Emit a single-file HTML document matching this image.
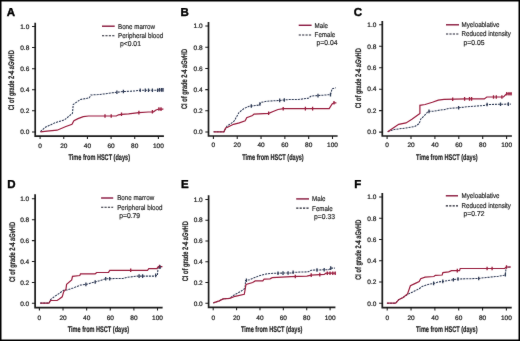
<!DOCTYPE html>
<html><head><meta charset="utf-8"><style>html,body{margin:0;padding:0;background:#fff;width:520px;height:341px;overflow:hidden}</style></head>
<body><svg width="520" height="341" viewBox="0 0 520 341" style="display:block;text-rendering:geometricPrecision"><defs><filter id="bl" x="-5%" y="-5%" width="110%" height="110%"><feConvolveMatrix order="3" kernelMatrix="0.01 0.04 0.01 0.04 0.8 0.04 0.01 0.04 0.01" preserveAlpha="false"/></filter></defs><rect x="0" y="0" width="520" height="341" fill="#fff"/><g filter="url(#bl)"><g><text x="6.8" y="15.8" font-family='"Liberation Sans", sans-serif' font-weight="bold" font-size="11.5" fill="#000" stroke="#000" stroke-width="0.4">A</text><path d="M35.2 22.8V136.2H163.9" fill="none" stroke="#1a1a1a" stroke-width="1.7" stroke-linejoin="miter" stroke-linecap="butt"/><path d="M32.00 131.90H35.2M32.00 110.82H35.2M32.00 89.74H35.2M32.00 68.66H35.2M32.00 47.58H35.2M32.00 26.50H35.2M40.10 136.2V139.10M63.76 136.2V139.10M87.42 136.2V139.10M111.08 136.2V139.10M134.74 136.2V139.10M158.40 136.2V139.10" stroke="#1a1a1a" stroke-width="1.05" fill="none"/><text transform="translate(29.30 134.20) scale(1.02 1)" text-anchor="end" font-family='"Liberation Sans", sans-serif' font-size="6.4" fill="#222222" stroke="#222222" stroke-width="0.22">0.0</text><text transform="translate(29.30 113.12) scale(1.02 1)" text-anchor="end" font-family='"Liberation Sans", sans-serif' font-size="6.4" fill="#222222" stroke="#222222" stroke-width="0.22">0.2</text><text transform="translate(29.30 92.04) scale(1.02 1)" text-anchor="end" font-family='"Liberation Sans", sans-serif' font-size="6.4" fill="#222222" stroke="#222222" stroke-width="0.22">0.4</text><text transform="translate(29.30 70.96) scale(1.02 1)" text-anchor="end" font-family='"Liberation Sans", sans-serif' font-size="6.4" fill="#222222" stroke="#222222" stroke-width="0.22">0.6</text><text transform="translate(29.30 49.88) scale(1.02 1)" text-anchor="end" font-family='"Liberation Sans", sans-serif' font-size="6.4" fill="#222222" stroke="#222222" stroke-width="0.22">0.8</text><text transform="translate(29.30 28.80) scale(1.02 1)" text-anchor="end" font-family='"Liberation Sans", sans-serif' font-size="6.4" fill="#222222" stroke="#222222" stroke-width="0.22">1.0</text><text transform="translate(40.10 147.60) scale(1.02 1)" text-anchor="middle" font-family='"Liberation Sans", sans-serif' font-size="6.4" fill="#222222" stroke="#222222" stroke-width="0.22">0</text><text transform="translate(63.76 147.60) scale(1.02 1)" text-anchor="middle" font-family='"Liberation Sans", sans-serif' font-size="6.4" fill="#222222" stroke="#222222" stroke-width="0.22">20</text><text transform="translate(87.42 147.60) scale(1.02 1)" text-anchor="middle" font-family='"Liberation Sans", sans-serif' font-size="6.4" fill="#222222" stroke="#222222" stroke-width="0.22">40</text><text transform="translate(111.08 147.60) scale(1.02 1)" text-anchor="middle" font-family='"Liberation Sans", sans-serif' font-size="6.4" fill="#222222" stroke="#222222" stroke-width="0.22">60</text><text transform="translate(134.74 147.60) scale(1.02 1)" text-anchor="middle" font-family='"Liberation Sans", sans-serif' font-size="6.4" fill="#222222" stroke="#222222" stroke-width="0.22">80</text><text transform="translate(158.40 147.60) scale(1.02 1)" text-anchor="middle" font-family='"Liberation Sans", sans-serif' font-size="6.4" fill="#222222" stroke="#222222" stroke-width="0.22">100</text><text transform="translate(99.25 160.00) scale(0.68 1)" text-anchor="middle" font-family='"Liberation Sans", sans-serif' font-weight="bold" font-size="8.2" fill="#222222" stroke="#222222" stroke-width="0.2">Time from HSCT (days)</text><text transform="translate(14.20 80.30) rotate(-90) scale(0.695 1)" text-anchor="middle" font-family='"Liberation Sans", sans-serif' font-weight="bold" font-size="8.2" fill="#222222" stroke="#222222" stroke-width="0.2">CI of grade 2-4 aGvHD</text><path d="M102.0 26.2H114.7" stroke="#8c1e44" stroke-width="1.45"/><path d="M102.0 35.8H114.7" stroke="#222533" stroke-width="1.1" stroke-dasharray="2.2 1.2"/><text transform="translate(118.00 28.70) scale(0.875 1)" font-family='"Liberation Sans", sans-serif' font-size="7.1" fill="#222222" stroke="#222222" stroke-width="0.18">Bone marrow</text><text transform="translate(118.00 38.00) scale(0.875 1)" font-family='"Liberation Sans", sans-serif' font-size="7.1" fill="#222222" stroke="#222222" stroke-width="0.18">Peripheral blood</text><text transform="translate(120.00 46.00) scale(0.955 1)" font-family='"Liberation Sans", sans-serif' font-size="7.1" fill="#222222" stroke="#222222" stroke-width="0.18">p&lt;0.01</text><path d="M40.4 131.6 L45.3 127.3 L55.0 122.8 L64.4 119.9 L72.5 113.3 L73.2 104.5 L80.5 99.4 L85.9 98.5 L89.3 97.9 L90.8 95.0 L98.1 94.6 L104.4 93.9 L112.3 92.8 L116.3 92.3 L123.4 91.5 L129.2 91.3 L135.6 90.9 L140.2 90.3 L157.6 90.3 L158.0 89.9 L163.4 89.9" fill="none" stroke="#2f3a55" stroke-width="1.05" stroke-dasharray="2.1 0.95" stroke-linejoin="miter"/><path d="M40.4 131.8 L47.0 131.1 L57.1 130.2 L65.9 126.5 L72.0 124.3 L73.9 120.7 L78.0 118.6 L83.3 116.6 L88.6 116.0 L116.3 116.0 L118.5 114.8 L121.5 114.3 L128.6 113.9 L138.9 112.6 L148.5 112.0 L153.5 111.8 L156.0 110.0 L158.9 109.0 L163.4 109.2" fill="none" stroke="#9a1b3d" stroke-width="1.2" stroke-linejoin="miter"/><path d="M105.0 114.2V117.8M111.2 114.2V117.8M121.5 112.5V116.1M138.9 110.8V114.4M152.4 110.0V113.6M158.9 107.2V110.8M161.0 107.3V110.9" stroke="#9a1b3d" stroke-width="1.3"/><path d="M116.9 90.4V94.0M123.4 89.7V93.3M140.2 88.5V92.1M145.3 88.5V92.1M148.5 88.5V92.1M152.4 88.5V92.1M157.6 88.5V92.1M159.5 88.1V91.7M161.5 88.1V91.7M163.0 88.1V91.7" stroke="#2f3a55" stroke-width="1.3"/></g><g><text x="180.6" y="15.8" font-family='"Liberation Sans", sans-serif' font-weight="bold" font-size="11.5" fill="#000" stroke="#000" stroke-width="0.4">B</text><path d="M208.5 22.0V136.0H337.6" fill="none" stroke="#1a1a1a" stroke-width="1.7" stroke-linejoin="miter" stroke-linecap="butt"/><path d="M205.30 132.00H208.5M205.30 110.80H208.5M205.30 89.60H208.5M205.30 68.40H208.5M205.30 47.20H208.5M205.30 26.00H208.5M213.40 136.0V138.90M237.22 136.0V138.90M261.04 136.0V138.90M284.86 136.0V138.90M308.68 136.0V138.90M332.50 136.0V138.90" stroke="#1a1a1a" stroke-width="1.05" fill="none"/><text transform="translate(202.60 134.30) scale(1.02 1)" text-anchor="end" font-family='"Liberation Sans", sans-serif' font-size="6.4" fill="#222222" stroke="#222222" stroke-width="0.22">0.0</text><text transform="translate(202.60 113.10) scale(1.02 1)" text-anchor="end" font-family='"Liberation Sans", sans-serif' font-size="6.4" fill="#222222" stroke="#222222" stroke-width="0.22">0.2</text><text transform="translate(202.60 91.90) scale(1.02 1)" text-anchor="end" font-family='"Liberation Sans", sans-serif' font-size="6.4" fill="#222222" stroke="#222222" stroke-width="0.22">0.4</text><text transform="translate(202.60 70.70) scale(1.02 1)" text-anchor="end" font-family='"Liberation Sans", sans-serif' font-size="6.4" fill="#222222" stroke="#222222" stroke-width="0.22">0.6</text><text transform="translate(202.60 49.50) scale(1.02 1)" text-anchor="end" font-family='"Liberation Sans", sans-serif' font-size="6.4" fill="#222222" stroke="#222222" stroke-width="0.22">0.8</text><text transform="translate(202.60 28.30) scale(1.02 1)" text-anchor="end" font-family='"Liberation Sans", sans-serif' font-size="6.4" fill="#222222" stroke="#222222" stroke-width="0.22">1.0</text><text transform="translate(213.40 147.40) scale(1.02 1)" text-anchor="middle" font-family='"Liberation Sans", sans-serif' font-size="6.4" fill="#222222" stroke="#222222" stroke-width="0.22">0</text><text transform="translate(237.22 147.40) scale(1.02 1)" text-anchor="middle" font-family='"Liberation Sans", sans-serif' font-size="6.4" fill="#222222" stroke="#222222" stroke-width="0.22">20</text><text transform="translate(261.04 147.40) scale(1.02 1)" text-anchor="middle" font-family='"Liberation Sans", sans-serif' font-size="6.4" fill="#222222" stroke="#222222" stroke-width="0.22">40</text><text transform="translate(284.86 147.40) scale(1.02 1)" text-anchor="middle" font-family='"Liberation Sans", sans-serif' font-size="6.4" fill="#222222" stroke="#222222" stroke-width="0.22">60</text><text transform="translate(308.68 147.40) scale(1.02 1)" text-anchor="middle" font-family='"Liberation Sans", sans-serif' font-size="6.4" fill="#222222" stroke="#222222" stroke-width="0.22">80</text><text transform="translate(332.50 147.40) scale(1.02 1)" text-anchor="middle" font-family='"Liberation Sans", sans-serif' font-size="6.4" fill="#222222" stroke="#222222" stroke-width="0.22">100</text><text transform="translate(272.95 159.80) scale(0.68 1)" text-anchor="middle" font-family='"Liberation Sans", sans-serif' font-weight="bold" font-size="8.2" fill="#222222" stroke="#222222" stroke-width="0.2">Time from HSCT (days)</text><text transform="translate(187.20 78.95) rotate(-90) scale(0.695 1)" text-anchor="middle" font-family='"Liberation Sans", sans-serif' font-weight="bold" font-size="8.2" fill="#222222" stroke="#222222" stroke-width="0.2">CI of grade 2-4 aGvHD</text><path d="M298.7 25.3H311.6" stroke="#8c1e44" stroke-width="1.45"/><path d="M298.7 35.0H311.6" stroke="#222533" stroke-width="1.1" stroke-dasharray="2.2 1.2"/><text transform="translate(314.60 27.80) scale(0.875 1)" font-family='"Liberation Sans", sans-serif' font-size="7.1" fill="#222222" stroke="#222222" stroke-width="0.18">Male</text><text transform="translate(314.60 37.00) scale(0.875 1)" font-family='"Liberation Sans", sans-serif' font-size="7.1" fill="#222222" stroke="#222222" stroke-width="0.18">Female</text><text transform="translate(316.60 45.30) scale(0.955 1)" font-family='"Liberation Sans", sans-serif' font-size="7.1" fill="#222222" stroke="#222222" stroke-width="0.18">p=0.04</text><path d="M213.6 131.8 L223.9 131.8 L226.9 126.2 L230.5 123.8 L234.2 121.0 L239.0 112.5 L244.0 108.5 L249.0 106.3 L259.0 105.1 L261.3 102.3 L266.5 101.3 L279.7 100.4 L288.3 99.6 L298.2 99.5 L308.3 98.2 L311.2 96.0 L317.7 95.6 L330.5 94.6 L332.1 88.8 L335.7 87.8" fill="none" stroke="#2f3a55" stroke-width="1.05" stroke-dasharray="2.1 0.95" stroke-linejoin="miter"/><path d="M213.6 131.8 L223.9 131.8 L225.6 128.0 L227.6 127.3 L230.5 125.8 L233.5 124.3 L239.3 122.9 L245.2 120.7 L246.7 117.7 L252.5 115.5 L254.0 114.1 L268.7 113.3 L273.7 111.2 L278.0 109.5 L283.6 108.6 L329.2 108.6 L332.1 104.0 L334.0 102.8 L336.4 102.8" fill="none" stroke="#9a1b3d" stroke-width="1.2" stroke-linejoin="miter"/><path d="M268.6 111.5V115.1M283.2 106.9V110.5M305.4 106.8V110.4M312.6 106.8V110.4M334.0 101.0V104.6" stroke="#9a1b3d" stroke-width="1.3"/><path d="M251.3 104.2V107.8M259.9 102.2V105.8M279.7 98.6V102.2M284.3 98.2V101.8M318.0 93.8V97.4M330.5 92.8V96.4" stroke="#2f3a55" stroke-width="1.3"/></g><g><text x="353.70000000000005" y="15.8" font-family='"Liberation Sans", sans-serif' font-weight="bold" font-size="11.5" fill="#000" stroke="#000" stroke-width="0.4">C</text><path d="M382.3 21.0V136.0H511.9" fill="none" stroke="#1a1a1a" stroke-width="1.7" stroke-linejoin="miter" stroke-linecap="butt"/><path d="M379.10 132.10H382.3M379.10 110.64H382.3M379.10 89.18H382.3M379.10 67.72H382.3M379.10 46.26H382.3M379.10 24.80H382.3M387.10 136.0V138.90M411.00 136.0V138.90M434.90 136.0V138.90M458.80 136.0V138.90M482.70 136.0V138.90M506.60 136.0V138.90" stroke="#1a1a1a" stroke-width="1.05" fill="none"/><text transform="translate(376.40 134.40) scale(1.02 1)" text-anchor="end" font-family='"Liberation Sans", sans-serif' font-size="6.4" fill="#222222" stroke="#222222" stroke-width="0.22">0.0</text><text transform="translate(376.40 112.94) scale(1.02 1)" text-anchor="end" font-family='"Liberation Sans", sans-serif' font-size="6.4" fill="#222222" stroke="#222222" stroke-width="0.22">0.2</text><text transform="translate(376.40 91.48) scale(1.02 1)" text-anchor="end" font-family='"Liberation Sans", sans-serif' font-size="6.4" fill="#222222" stroke="#222222" stroke-width="0.22">0.4</text><text transform="translate(376.40 70.02) scale(1.02 1)" text-anchor="end" font-family='"Liberation Sans", sans-serif' font-size="6.4" fill="#222222" stroke="#222222" stroke-width="0.22">0.6</text><text transform="translate(376.40 48.56) scale(1.02 1)" text-anchor="end" font-family='"Liberation Sans", sans-serif' font-size="6.4" fill="#222222" stroke="#222222" stroke-width="0.22">0.8</text><text transform="translate(376.40 27.10) scale(1.02 1)" text-anchor="end" font-family='"Liberation Sans", sans-serif' font-size="6.4" fill="#222222" stroke="#222222" stroke-width="0.22">1.0</text><text transform="translate(387.10 147.40) scale(1.02 1)" text-anchor="middle" font-family='"Liberation Sans", sans-serif' font-size="6.4" fill="#222222" stroke="#222222" stroke-width="0.22">0</text><text transform="translate(411.00 147.40) scale(1.02 1)" text-anchor="middle" font-family='"Liberation Sans", sans-serif' font-size="6.4" fill="#222222" stroke="#222222" stroke-width="0.22">20</text><text transform="translate(434.90 147.40) scale(1.02 1)" text-anchor="middle" font-family='"Liberation Sans", sans-serif' font-size="6.4" fill="#222222" stroke="#222222" stroke-width="0.22">40</text><text transform="translate(458.80 147.40) scale(1.02 1)" text-anchor="middle" font-family='"Liberation Sans", sans-serif' font-size="6.4" fill="#222222" stroke="#222222" stroke-width="0.22">60</text><text transform="translate(482.70 147.40) scale(1.02 1)" text-anchor="middle" font-family='"Liberation Sans", sans-serif' font-size="6.4" fill="#222222" stroke="#222222" stroke-width="0.22">80</text><text transform="translate(506.60 147.40) scale(1.02 1)" text-anchor="middle" font-family='"Liberation Sans", sans-serif' font-size="6.4" fill="#222222" stroke="#222222" stroke-width="0.22">100</text><text transform="translate(446.85 159.80) scale(0.68 1)" text-anchor="middle" font-family='"Liberation Sans", sans-serif' font-weight="bold" font-size="8.2" fill="#222222" stroke="#222222" stroke-width="0.2">Time from HSCT (days)</text><text transform="translate(360.60 78.30) rotate(-90) scale(0.695 1)" text-anchor="middle" font-family='"Liberation Sans", sans-serif' font-weight="bold" font-size="8.2" fill="#222222" stroke="#222222" stroke-width="0.2">CI of grade 2-4 aGvHD</text><path d="M446.0 24.8H459.0" stroke="#8c1e44" stroke-width="1.45"/><path d="M446.0 34.0H459.0" stroke="#222533" stroke-width="1.1" stroke-dasharray="2.2 1.2"/><text transform="translate(461.60 26.90) scale(0.875 1)" font-family='"Liberation Sans", sans-serif' font-size="7.1" fill="#222222" stroke="#222222" stroke-width="0.18">Myeloablative</text><text transform="translate(461.60 36.00) scale(0.875 1)" font-family='"Liberation Sans", sans-serif' font-size="7.1" fill="#222222" stroke="#222222" stroke-width="0.18">Reduced intensity</text><text transform="translate(463.60 44.80) scale(0.955 1)" font-family='"Liberation Sans", sans-serif' font-size="7.1" fill="#222222" stroke="#222222" stroke-width="0.18">p=0.05</text><path d="M387.7 131.8 L394.3 129.5 L406.0 128.0 L414.8 126.5 L419.2 123.6 L420.7 119.2 L426.5 113.3 L428.0 111.4 L433.9 111.2 L439.7 110.1 L444.0 109.7 L448.7 108.4 L458.6 107.7 L470.0 106.5 L474.5 106.2 L484.3 105.5 L487.1 104.5 L508.3 104.1 L511.0 104.1" fill="none" stroke="#2f3a55" stroke-width="1.05" stroke-dasharray="2.1 0.95" stroke-linejoin="miter"/><path d="M387.7 131.8 L394.3 127.3 L398.7 124.3 L406.0 122.9 L411.9 119.2 L419.2 114.1 L419.9 113.5 L419.9 105.3 L425.1 104.5 L432.4 102.3 L438.3 100.1 L444.0 99.4 L466.0 98.9 L484.3 98.9 L486.8 97.0 L503.5 97.0 L506.5 93.8 L511.8 93.8" fill="none" stroke="#9a1b3d" stroke-width="1.2" stroke-linejoin="miter"/><path d="M452.7 97.4V101.0M464.6 97.1V100.7M469.5 97.1V100.7M471.6 97.1V100.7M493.5 95.2V98.8M496.3 95.2V98.8M501.9 95.2V98.8M506.8 92.0V95.6M509.0 92.0V95.6M511.0 92.0V95.6" stroke="#9a1b3d" stroke-width="1.3"/><path d="M429.0 109.6V113.2M458.6 105.9V109.5M487.1 102.7V106.3M500.5 102.4V106.0M508.3 102.3V105.9" stroke="#2f3a55" stroke-width="1.3"/></g><g><text x="7.199999999999999" y="187.9" font-family='"Liberation Sans", sans-serif' font-weight="bold" font-size="11.5" fill="#000" stroke="#000" stroke-width="0.4">D</text><path d="M35.1 194.2V307.6H162.6" fill="none" stroke="#1a1a1a" stroke-width="1.7" stroke-linejoin="miter" stroke-linecap="butt"/><path d="M31.90 303.30H35.1M31.90 282.40H35.1M31.90 261.50H35.1M31.90 240.60H35.1M31.90 219.70H35.1M31.90 198.80H35.1M39.40 307.6V310.50M63.02 307.6V310.50M86.64 307.6V310.50M110.26 307.6V310.50M133.88 307.6V310.50M157.50 307.6V310.50" stroke="#1a1a1a" stroke-width="1.05" fill="none"/><text transform="translate(29.20 305.60) scale(1.02 1)" text-anchor="end" font-family='"Liberation Sans", sans-serif' font-size="6.4" fill="#222222" stroke="#222222" stroke-width="0.22">0.0</text><text transform="translate(29.20 284.70) scale(1.02 1)" text-anchor="end" font-family='"Liberation Sans", sans-serif' font-size="6.4" fill="#222222" stroke="#222222" stroke-width="0.22">0.2</text><text transform="translate(29.20 263.80) scale(1.02 1)" text-anchor="end" font-family='"Liberation Sans", sans-serif' font-size="6.4" fill="#222222" stroke="#222222" stroke-width="0.22">0.4</text><text transform="translate(29.20 242.90) scale(1.02 1)" text-anchor="end" font-family='"Liberation Sans", sans-serif' font-size="6.4" fill="#222222" stroke="#222222" stroke-width="0.22">0.6</text><text transform="translate(29.20 222.00) scale(1.02 1)" text-anchor="end" font-family='"Liberation Sans", sans-serif' font-size="6.4" fill="#222222" stroke="#222222" stroke-width="0.22">0.8</text><text transform="translate(29.20 201.10) scale(1.02 1)" text-anchor="end" font-family='"Liberation Sans", sans-serif' font-size="6.4" fill="#222222" stroke="#222222" stroke-width="0.22">1.0</text><text transform="translate(39.40 319.70) scale(1.02 1)" text-anchor="middle" font-family='"Liberation Sans", sans-serif' font-size="6.4" fill="#222222" stroke="#222222" stroke-width="0.22">0</text><text transform="translate(63.02 319.70) scale(1.02 1)" text-anchor="middle" font-family='"Liberation Sans", sans-serif' font-size="6.4" fill="#222222" stroke="#222222" stroke-width="0.22">20</text><text transform="translate(86.64 319.70) scale(1.02 1)" text-anchor="middle" font-family='"Liberation Sans", sans-serif' font-size="6.4" fill="#222222" stroke="#222222" stroke-width="0.22">40</text><text transform="translate(110.26 319.70) scale(1.02 1)" text-anchor="middle" font-family='"Liberation Sans", sans-serif' font-size="6.4" fill="#222222" stroke="#222222" stroke-width="0.22">60</text><text transform="translate(133.88 319.70) scale(1.02 1)" text-anchor="middle" font-family='"Liberation Sans", sans-serif' font-size="6.4" fill="#222222" stroke="#222222" stroke-width="0.22">80</text><text transform="translate(157.50 319.70) scale(1.02 1)" text-anchor="middle" font-family='"Liberation Sans", sans-serif' font-size="6.4" fill="#222222" stroke="#222222" stroke-width="0.22">100</text><text transform="translate(98.45 332.00) scale(0.68 1)" text-anchor="middle" font-family='"Liberation Sans", sans-serif' font-weight="bold" font-size="8.2" fill="#222222" stroke="#222222" stroke-width="0.2">Time from HSCT (days)</text><text transform="translate(14.80 252.00) rotate(-90) scale(0.695 1)" text-anchor="middle" font-family='"Liberation Sans", sans-serif' font-weight="bold" font-size="8.2" fill="#222222" stroke="#222222" stroke-width="0.2">CI of grade 2-4 aGvHD</text><path d="M101.1 198.0H113.2" stroke="#8c1e44" stroke-width="1.45"/><path d="M101.1 207.2H113.2" stroke="#222533" stroke-width="1.1" stroke-dasharray="2.2 1.2"/><text transform="translate(117.20 200.20) scale(0.875 1)" font-family='"Liberation Sans", sans-serif' font-size="7.1" fill="#222222" stroke="#222222" stroke-width="0.18">Bone marrow</text><text transform="translate(117.20 209.60) scale(0.875 1)" font-family='"Liberation Sans", sans-serif' font-size="7.1" fill="#222222" stroke="#222222" stroke-width="0.18">Peripheral blood</text><text transform="translate(119.20 218.10) scale(0.955 1)" font-family='"Liberation Sans", sans-serif' font-size="7.1" fill="#222222" stroke="#222222" stroke-width="0.18">p=0.79</text><path d="M40.2 303.1 L49.0 303.1 L50.5 299.7 L54.1 296.8 L58.5 293.9 L63.7 290.2 L67.3 289.9 L73.2 288.0 L80.5 285.1 L86.4 284.3 L91.2 283.0 L95.2 282.0 L99.8 280.7 L105.7 278.7 L123.0 278.5 L126.5 277.5 L136.3 276.1 L154.6 276.1 L155.7 275.4 L157.4 275.4 L158.1 267.6 L161.7 266.6" fill="none" stroke="#2f3a55" stroke-width="1.05" stroke-dasharray="2.1 0.95" stroke-linejoin="miter"/><path d="M40.2 303.1 L49.0 303.1 L50.5 300.5 L57.1 300.5 L59.3 299.0 L62.2 296.8 L63.7 291.7 L65.9 289.5 L66.6 284.3 L71.7 280.0 L72.5 276.3 L79.8 275.5 L80.5 273.8 L95.2 273.8 L96.7 272.5 L108.5 272.3 L109.8 270.3 L147.5 270.3 L148.8 268.6 L156.9 268.6 L158.3 266.6 L162.4 266.6" fill="none" stroke="#9a1b3d" stroke-width="1.2" stroke-linejoin="miter"/><path d="M130.7 268.5V272.1M159.5 264.8V268.4" stroke="#9a1b3d" stroke-width="1.3"/><path d="M85.9 282.6V286.2M95.2 280.2V283.8M105.7 276.9V280.5M109.7 276.9V280.5M139.1 274.3V277.9M142.6 274.3V277.9M155.7 273.6V277.2M160.0 265.3V268.9" stroke="#2f3a55" stroke-width="1.3"/></g><g><text x="181.0" y="188.0" font-family='"Liberation Sans", sans-serif' font-weight="bold" font-size="11.5" fill="#000" stroke="#000" stroke-width="0.4">E</text><path d="M208.6 195.3V307.4H335.4" fill="none" stroke="#1a1a1a" stroke-width="1.7" stroke-linejoin="miter" stroke-linecap="butt"/><path d="M205.40 303.30H208.6M205.40 282.52H208.6M205.40 261.74H208.6M205.40 240.96H208.6M205.40 220.18H208.6M205.40 199.40H208.6M213.20 307.4V310.30M236.58 307.4V310.30M259.96 307.4V310.30M283.34 307.4V310.30M306.72 307.4V310.30M330.10 307.4V310.30" stroke="#1a1a1a" stroke-width="1.05" fill="none"/><text transform="translate(202.70 305.60) scale(1.02 1)" text-anchor="end" font-family='"Liberation Sans", sans-serif' font-size="6.4" fill="#222222" stroke="#222222" stroke-width="0.22">0.0</text><text transform="translate(202.70 284.82) scale(1.02 1)" text-anchor="end" font-family='"Liberation Sans", sans-serif' font-size="6.4" fill="#222222" stroke="#222222" stroke-width="0.22">0.2</text><text transform="translate(202.70 264.04) scale(1.02 1)" text-anchor="end" font-family='"Liberation Sans", sans-serif' font-size="6.4" fill="#222222" stroke="#222222" stroke-width="0.22">0.4</text><text transform="translate(202.70 243.26) scale(1.02 1)" text-anchor="end" font-family='"Liberation Sans", sans-serif' font-size="6.4" fill="#222222" stroke="#222222" stroke-width="0.22">0.6</text><text transform="translate(202.70 222.48) scale(1.02 1)" text-anchor="end" font-family='"Liberation Sans", sans-serif' font-size="6.4" fill="#222222" stroke="#222222" stroke-width="0.22">0.8</text><text transform="translate(202.70 201.70) scale(1.02 1)" text-anchor="end" font-family='"Liberation Sans", sans-serif' font-size="6.4" fill="#222222" stroke="#222222" stroke-width="0.22">1.0</text><text transform="translate(213.20 319.50) scale(1.02 1)" text-anchor="middle" font-family='"Liberation Sans", sans-serif' font-size="6.4" fill="#222222" stroke="#222222" stroke-width="0.22">0</text><text transform="translate(236.58 319.50) scale(1.02 1)" text-anchor="middle" font-family='"Liberation Sans", sans-serif' font-size="6.4" fill="#222222" stroke="#222222" stroke-width="0.22">20</text><text transform="translate(259.96 319.50) scale(1.02 1)" text-anchor="middle" font-family='"Liberation Sans", sans-serif' font-size="6.4" fill="#222222" stroke="#222222" stroke-width="0.22">40</text><text transform="translate(283.34 319.50) scale(1.02 1)" text-anchor="middle" font-family='"Liberation Sans", sans-serif' font-size="6.4" fill="#222222" stroke="#222222" stroke-width="0.22">60</text><text transform="translate(306.72 319.50) scale(1.02 1)" text-anchor="middle" font-family='"Liberation Sans", sans-serif' font-size="6.4" fill="#222222" stroke="#222222" stroke-width="0.22">80</text><text transform="translate(330.10 319.50) scale(1.02 1)" text-anchor="middle" font-family='"Liberation Sans", sans-serif' font-size="6.4" fill="#222222" stroke="#222222" stroke-width="0.22">100</text><text transform="translate(271.65 331.80) scale(0.68 1)" text-anchor="middle" font-family='"Liberation Sans", sans-serif' font-weight="bold" font-size="8.2" fill="#222222" stroke="#222222" stroke-width="0.2">Time from HSCT (days)</text><text transform="translate(187.60 251.20) rotate(-90) scale(0.695 1)" text-anchor="middle" font-family='"Liberation Sans", sans-serif' font-weight="bold" font-size="8.2" fill="#222222" stroke="#222222" stroke-width="0.2">CI of grade 2-4 aGvHD</text><path d="M296.2 198.9H309.0" stroke="#8c1e44" stroke-width="1.45"/><path d="M296.2 208.1H309.0" stroke="#222533" stroke-width="1.1" stroke-dasharray="2.2 1.2"/><text transform="translate(312.10 200.90) scale(0.875 1)" font-family='"Liberation Sans", sans-serif' font-size="7.1" fill="#222222" stroke="#222222" stroke-width="0.18">Male</text><text transform="translate(312.10 210.50) scale(0.875 1)" font-family='"Liberation Sans", sans-serif' font-size="7.1" fill="#222222" stroke="#222222" stroke-width="0.18">Female</text><text transform="translate(314.10 219.00) scale(0.955 1)" font-family='"Liberation Sans", sans-serif' font-size="7.1" fill="#222222" stroke="#222222" stroke-width="0.18">p=0.33</text><path d="M213.3 302.9 L219.2 300.9 L223.2 298.9 L229.8 298.3 L233.7 295.2 L240.3 291.7 L245.0 288.4 L245.6 280.4 L249.6 279.8 L252.5 278.5 L259.0 275.8 L266.0 274.0 L274.0 273.2 L292.0 273.0 L293.1 272.3 L308.3 271.8 L311.2 270.2 L329.0 269.6 L330.7 268.1 L334.8 268.1" fill="none" stroke="#2f3a55" stroke-width="1.05" stroke-dasharray="2.1 0.95" stroke-linejoin="miter"/><path d="M213.3 302.9 L219.2 300.9 L223.2 298.9 L229.8 298.3 L235.1 296.3 L244.3 294.3 L246.0 284.5 L252.7 282.5 L255.2 280.9 L262.8 280.9 L264.1 279.1 L270.0 278.8 L272.2 277.6 L291.0 276.6 L306.9 276.2 L311.2 275.1 L319.8 274.6 L324.2 274.5 L326.0 273.2 L335.6 273.2" fill="none" stroke="#9a1b3d" stroke-width="1.2" stroke-linejoin="miter"/><path d="M295.3 274.7V278.3M311.2 273.3V276.9M319.8 272.8V276.4M327.3 271.4V275.0M330.0 271.4V275.0M332.8 271.4V275.0M335.2 271.4V275.0" stroke="#9a1b3d" stroke-width="1.3"/><path d="M246.4 278.5V282.1M278.0 271.4V275.0M283.0 271.3V274.9M288.1 271.2V274.8M293.1 270.5V274.1M317.0 268.2V271.8M324.2 268.0V271.6M330.7 266.3V269.9" stroke="#2f3a55" stroke-width="1.3"/></g><g><text x="354.3" y="188.0" font-family='"Liberation Sans", sans-serif' font-weight="bold" font-size="11.5" fill="#000" stroke="#000" stroke-width="0.4">F</text><path d="M382.3 192.9V307.6H511.7" fill="none" stroke="#1a1a1a" stroke-width="1.7" stroke-linejoin="miter" stroke-linecap="butt"/><path d="M379.10 303.30H382.3M379.10 282.04H382.3M379.10 260.78H382.3M379.10 239.52H382.3M379.10 218.26H382.3M379.10 197.00H382.3M387.20 307.6V310.50M411.04 307.6V310.50M434.88 307.6V310.50M458.72 307.6V310.50M482.56 307.6V310.50M506.40 307.6V310.50" stroke="#1a1a1a" stroke-width="1.05" fill="none"/><text transform="translate(376.40 305.60) scale(1.02 1)" text-anchor="end" font-family='"Liberation Sans", sans-serif' font-size="6.4" fill="#222222" stroke="#222222" stroke-width="0.22">0.0</text><text transform="translate(376.40 284.34) scale(1.02 1)" text-anchor="end" font-family='"Liberation Sans", sans-serif' font-size="6.4" fill="#222222" stroke="#222222" stroke-width="0.22">0.2</text><text transform="translate(376.40 263.08) scale(1.02 1)" text-anchor="end" font-family='"Liberation Sans", sans-serif' font-size="6.4" fill="#222222" stroke="#222222" stroke-width="0.22">0.4</text><text transform="translate(376.40 241.82) scale(1.02 1)" text-anchor="end" font-family='"Liberation Sans", sans-serif' font-size="6.4" fill="#222222" stroke="#222222" stroke-width="0.22">0.6</text><text transform="translate(376.40 220.56) scale(1.02 1)" text-anchor="end" font-family='"Liberation Sans", sans-serif' font-size="6.4" fill="#222222" stroke="#222222" stroke-width="0.22">0.8</text><text transform="translate(376.40 199.30) scale(1.02 1)" text-anchor="end" font-family='"Liberation Sans", sans-serif' font-size="6.4" fill="#222222" stroke="#222222" stroke-width="0.22">1.0</text><text transform="translate(387.20 319.70) scale(1.02 1)" text-anchor="middle" font-family='"Liberation Sans", sans-serif' font-size="6.4" fill="#222222" stroke="#222222" stroke-width="0.22">0</text><text transform="translate(411.04 319.70) scale(1.02 1)" text-anchor="middle" font-family='"Liberation Sans", sans-serif' font-size="6.4" fill="#222222" stroke="#222222" stroke-width="0.22">20</text><text transform="translate(434.88 319.70) scale(1.02 1)" text-anchor="middle" font-family='"Liberation Sans", sans-serif' font-size="6.4" fill="#222222" stroke="#222222" stroke-width="0.22">40</text><text transform="translate(458.72 319.70) scale(1.02 1)" text-anchor="middle" font-family='"Liberation Sans", sans-serif' font-size="6.4" fill="#222222" stroke="#222222" stroke-width="0.22">60</text><text transform="translate(482.56 319.70) scale(1.02 1)" text-anchor="middle" font-family='"Liberation Sans", sans-serif' font-size="6.4" fill="#222222" stroke="#222222" stroke-width="0.22">80</text><text transform="translate(506.40 319.70) scale(1.02 1)" text-anchor="middle" font-family='"Liberation Sans", sans-serif' font-size="6.4" fill="#222222" stroke="#222222" stroke-width="0.22">100</text><text transform="translate(446.80 332.00) scale(0.68 1)" text-anchor="middle" font-family='"Liberation Sans", sans-serif' font-weight="bold" font-size="8.2" fill="#222222" stroke="#222222" stroke-width="0.2">Time from HSCT (days)</text><text transform="translate(360.80 249.80) rotate(-90) scale(0.695 1)" text-anchor="middle" font-family='"Liberation Sans", sans-serif' font-weight="bold" font-size="8.2" fill="#222222" stroke="#222222" stroke-width="0.2">CI of grade 2-4 aGvHD</text><path d="M445.8 195.8H458.0" stroke="#8c1e44" stroke-width="1.45"/><path d="M445.8 205.9H458.0" stroke="#222533" stroke-width="1.1" stroke-dasharray="2.2 1.2"/><text transform="translate(461.60 198.30) scale(0.875 1)" font-family='"Liberation Sans", sans-serif' font-size="7.1" fill="#222222" stroke="#222222" stroke-width="0.18">Myeloablative</text><text transform="translate(461.60 208.10) scale(0.875 1)" font-family='"Liberation Sans", sans-serif' font-size="7.1" fill="#222222" stroke="#222222" stroke-width="0.18">Reduced intensity</text><text transform="translate(463.60 216.00) scale(0.955 1)" font-family='"Liberation Sans", sans-serif' font-size="7.1" fill="#222222" stroke="#222222" stroke-width="0.18">p=0.72</text><path d="M386.9 303.2 L395.7 303.2 L398.7 299.7 L403.1 297.5 L407.5 294.4 L413.3 291.7 L419.2 288.7 L422.1 286.5 L428.0 284.5 L433.6 283.4 L438.2 282.0 L442.8 281.4 L451.4 280.0 L458.0 279.0 L470.0 278.7 L478.7 278.5 L484.3 277.7 L498.4 276.3 L504.0 275.3 L505.4 274.6 L506.1 267.5 L510.0 267.0" fill="none" stroke="#2f3a55" stroke-width="1.05" stroke-dasharray="2.1 0.95" stroke-linejoin="miter"/><path d="M386.9 303.2 L395.7 303.2 L398.7 299.7 L403.1 297.5 L407.5 293.9 L410.4 285.8 L414.8 283.6 L419.2 281.6 L420.7 278.7 L425.1 277.2 L433.9 276.5 L435.3 275.4 L442.2 275.0 L442.9 272.6 L448.7 271.8 L451.5 270.6 L459.5 270.6 L460.2 268.5 L504.7 268.5 L506.1 267.0 L511.0 267.0" fill="none" stroke="#9a1b3d" stroke-width="1.2" stroke-linejoin="miter"/><path d="M457.3 268.8V272.4M487.1 266.7V270.3M492.1 266.7V270.3M506.5 265.2V268.8" stroke="#9a1b3d" stroke-width="1.3"/><path d="M433.6 281.6V285.2M442.8 279.6V283.2M453.4 277.9V281.5M458.0 277.2V280.8M478.7 276.7V280.3M505.4 272.8V276.4" stroke="#2f3a55" stroke-width="1.3"/></g><rect x="0" y="0" width="520" height="341" fill="none" stroke="#000" stroke-width="3"/></g></svg></body></html>
